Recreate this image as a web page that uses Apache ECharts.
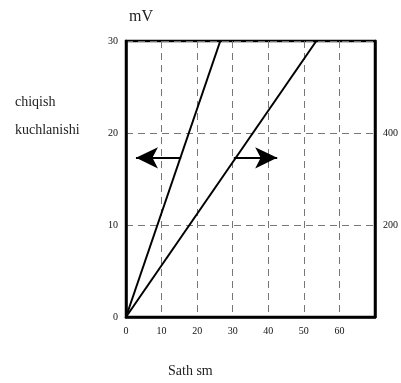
<!DOCTYPE html>
<html>
<head>
<meta charset="utf-8">
<script src="https://cdn.jsdelivr.net/npm/echarts@6/dist/echarts.min.js"></script>
<style>
  html, body { margin: 0; padding: 0; background: #fff; }
  #chart { width: 401px; height: 383px; }
</style>
</head>
<body>
<div id="chart"></div>
<script>
// Sath (sm) vs chiqish kuchlanishi (mV)
const steepLine = [[0, 0], [26.5, 30]];
const shallowLine = [[0, 0], [53.5, 30]];
const xTicks = [0, 10, 20, 30, 40, 50, 60];
const leftTicks = [0, 10, 20, 30];
const rightTicks = [200, 400];
// arrows pointing to the scale each line belongs to
const leftArrow = [[15.5, 17.3], [2.8, 17.3]];
const rightArrow = [[30.3, 17.3], [42.5, 17.3]];

const serif = '"Liberation Serif", "DejaVu Serif", serif';
const chart = echarts.init(document.getElementById('chart'));

chart.setOption({
  animation: false,
  backgroundColor: '#fff',
  grid: { left: 126, right: 26, top: 41, bottom: 66, show: true, borderColor: '#000', borderWidth: 2.5 },
  xAxis: {
    type: 'value', min: 0, max: 70, interval: 10,
    axisLine: { show: true, lineStyle: { color: '#000', width: 2.5 } },
    axisTick: { show: false },
    axisLabel: {
      color: '#111', fontFamily: serif, fontSize: 10, margin: 9,
      formatter: v => xTicks.includes(v) ? String(v) : ''
    },
    splitLine: { show: true, lineStyle: { color: '#777', type: [7, 5], width: 1 } }
  },
  yAxis: [
    {
      type: 'value', min: 0, max: 30, interval: 10,
      axisLine: { show: true, lineStyle: { color: '#000', width: 2.5 } },
      axisTick: { show: false },
      axisLabel: {
        color: '#111', fontFamily: serif, fontSize: 10, margin: 8,
        formatter: v => leftTicks.includes(v) ? String(v) : ''
      },
      splitLine: { show: true, lineStyle: { color: '#777', type: [7, 5], width: 1 } }
    },
    {
      type: 'value', min: 0, max: 600, interval: 200, position: 'right',
      axisLine: { show: true, lineStyle: { color: '#000', width: 2.5 } },
      axisTick: { show: false },
      axisLabel: {
        color: '#111', fontFamily: serif, fontSize: 10, margin: 8,
        formatter: v => rightTicks.includes(v) ? String(v) : ''
      },
      splitLine: { show: false }
    }
  ],
  series: [
    {
      type: 'line', data: steepLine, symbol: 'none',
      lineStyle: { color: '#000', width: 2 },
      markLine: {
        silent: true, animation: false,
        lineStyle: { color: '#000', width: 2, type: 'solid' },
        label: { show: false },
        data: [
          [{ coord: leftArrow[0], symbol: 'none' }, { coord: leftArrow[1], symbol: 'arrow', symbolSize: [16, 22] }],
          [{ coord: rightArrow[0], symbol: 'none' }, { coord: rightArrow[1], symbol: 'arrow', symbolSize: [16, 22] }]
        ]
      }
    },
    {
      type: 'line', data: shallowLine, symbol: 'none',
      lineStyle: { color: '#000', width: 2 }
    }
  ],
  graphic: [
    { type: 'text', left: 129, top: 9, style: { text: 'mV', font: '16px ' + serif, fill: '#222' } },
    { type: 'text', left: 15, top: 95, style: { text: 'chiqish', font: '14px ' + serif, fill: '#222' } },
    { type: 'text', left: 15, top: 123, style: { text: 'kuchlanishi', font: '14px ' + serif, fill: '#222' } },
    { type: 'text', left: 168, top: 364, style: { text: 'Sath sm', font: '14px ' + serif, fill: '#222' } }
  ]
});
</script>
</body>
</html>
